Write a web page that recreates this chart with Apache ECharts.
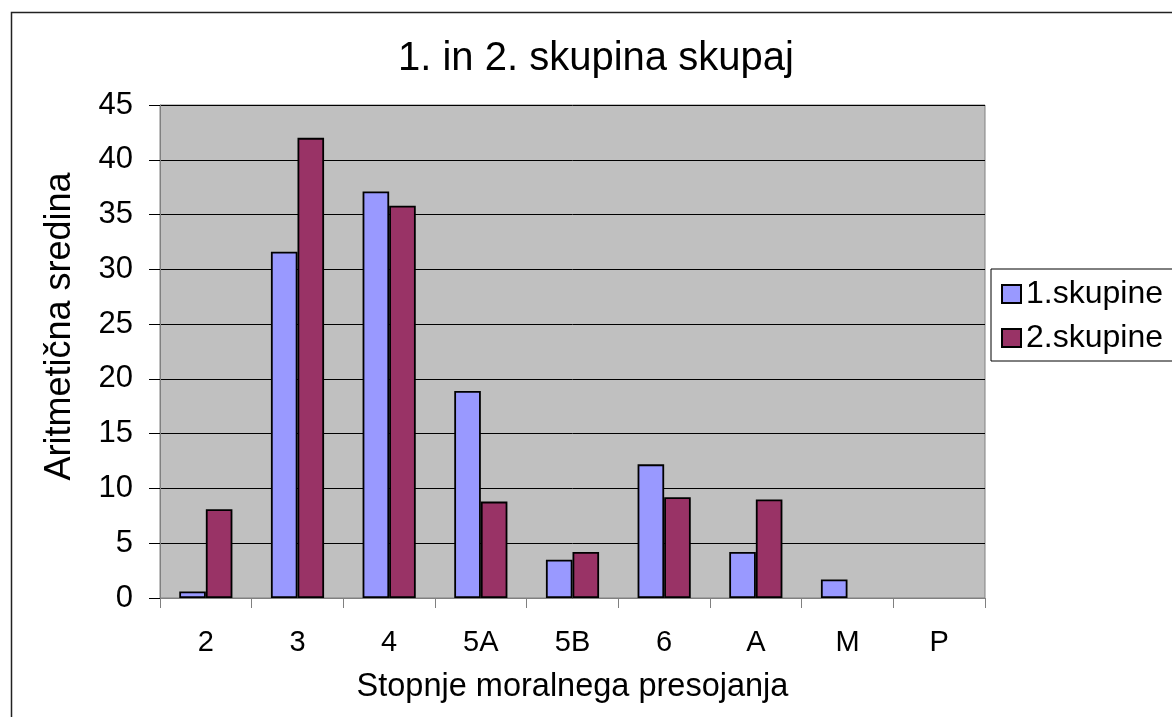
<!DOCTYPE html>
<html>
<head>
<meta charset="utf-8">
<script src="https://cdn.jsdelivr.net/npm/echarts@6/dist/echarts.min.js"></script>
<style>
html,body{margin:0;padding:0;background:#fff;}
#main{width:1172px;height:717px;}
</style>
</head>
<body>
<div id="main"></div>
<script>
const categories = ['2', '3', '4', '5A', '5B', '6', 'A', 'M', 'P'];
const series1Name = '1.skupine';
const series2Name = '2.skupine';
const series1 = [0.6, 31.6, 37.1, 18.9, 3.5, 12.2, 4.2, 1.7, 0];
const series2 = [8.1, 42.0, 35.8, 8.8, 4.2, 9.2, 9.0, 0, 0];
const titleText = '1. in 2. skupina skupaj';
const xName = 'Stopnje moralnega presojanja';
const yName = 'Aritmetična sredina';

// zero values are drawn as empty (no outline) like the original
const toBar = arr => arr.map(v => (v === 0 ? '-' : v));

const FONT = 'Liberation Sans, Arial, sans-serif';
const chart = echarts.init(document.getElementById('main'));
chart.setOption({
  animation: false,
  backgroundColor: '#ffffff',
  textStyle: { fontFamily: FONT, color: '#000' },
  graphic: [{
    type: 'rect', left: 9, top: 10, shape: { width: 1300, height: 900 },
    style: { fill: 'none', stroke: '#222', lineWidth: 1.5 }, z: 100, silent: true
  }],
  title: {
    text: titleText, left: 398, top: 39, padding: 0,
    textStyle: { fontFamily: FONT, fontSize: 40, fontWeight: 'normal', color: '#000' }
  },
  legend: {
    orient: 'vertical', left: 991, top: 269,
    padding: [8, 30, 6, 10],
    itemWidth: 19, itemHeight: 18, itemGap: 10, itemTextGap: 13,
    borderColor: '#000', borderWidth: 1, backgroundColor: '#fff',
    icon: 'rect',
    textStyle: { fontFamily: FONT, fontSize: 32, lineHeight: 34, color: '#000' },
    data: [series1Name, series2Name]
  },
  grid: {
    left: 160, top: 105, right: 187, bottom: 119,
    show: true, backgroundColor: '#C0C0C0', borderColor: '#808080', borderWidth: 1
  },
  xAxis: {
    type: 'category', data: categories,
    name: xName, nameLocation: 'middle', nameGap: 73,
    nameTextStyle: { fontFamily: FONT, fontSize: 32.5, color: '#000' },
    axisLine: { lineStyle: { color: '#808080', width: 1 } },
    axisTick: { show: true, alignWithLabel: false, length: 10, lineStyle: { color: '#808080' } },
    axisLabel: { fontFamily: FONT, fontSize: 29, color: '#000', margin: 30, interval: 0 },
    splitLine: { show: false }
  },
  yAxis: {
    type: 'value', min: 0, max: 45, interval: 5,
    name: yName, nameLocation: 'middle', nameGap: 82,
    nameTextStyle: { fontFamily: FONT, fontSize: 36, color: '#000', padding: [0, 0, 0, 50] },
    axisLine: { show: true, lineStyle: { color: '#808080', width: 1 } },
    axisTick: { show: true, length: 11, lineStyle: { color: '#000' } },
    axisLabel: { fontFamily: FONT, fontSize: 31, color: '#000', margin: 27 },
    splitLine: { show: true, lineStyle: { color: '#000', width: 1 } }
  },
  series: [
    {
      name: series1Name, type: 'bar', data: toBar(series1),
      barGap: '0%', barCategoryGap: '42%',
      itemStyle: { color: '#9999FF', borderColor: '#000', borderWidth: 1.8 }
    },
    {
      name: series2Name, type: 'bar', data: toBar(series2),
      barGap: '0%', barCategoryGap: '42%',
      itemStyle: { color: '#993366', borderColor: '#000', borderWidth: 1.8 }
    }
  ]
});
</script>
</body>
</html>
